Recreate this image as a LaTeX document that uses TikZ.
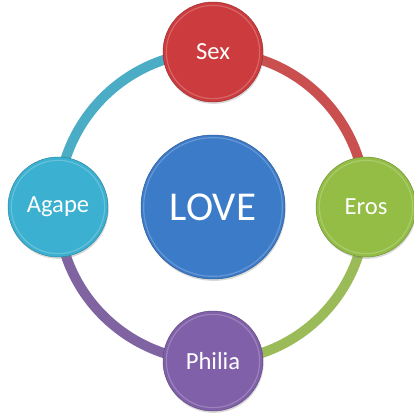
\documentclass[tikz,border=0pt]{standalone}
\usepackage{fontspec}
\setmainfont{Carlito}
\usetikzlibrary{shadows,backgrounds}

\definecolor{loveblue}{HTML}{3C7BC8}
\definecolor{sexred}{HTML}{CC3B3D}
\definecolor{erosgreen}{HTML}{93BD45}
\definecolor{philiapurple}{HTML}{8060A8}
\definecolor{agapecyan}{HTML}{3BB0D0}
\definecolor{ringred}{HTML}{C9504E}
\definecolor{ringgreen}{HTML}{9BBB59}
\definecolor{ringpurple}{HTML}{8064A2}
\definecolor{ringcyan}{HTML}{4BACC6}

\tikzset{
  rim/.style={path picture={\draw[white, opacity=0.22, line width=1pt]
      (path picture bounding box.center) circle[radius=#1];}},
  ball/.style={circle, minimum size=3cm, inner sep=0pt, fill=#1, draw=#1!75!black,
    line width=0.4pt, text=white, font=\fontsize{21}{21}\selectfont,
    drop shadow={opacity=0.3, shadow xshift=0.6pt, shadow yshift=-1.6pt},
    rim=1.4cm},
  band/.style={line width=8.5pt, draw=#1}
}

\begin{document}
\begin{tikzpicture}[x=0.03cm, y=0.03cm]
  \useasboundingbox (0,0) rectangle (413,416);

  % centre and the four kinds
  \node[ball=loveblue, minimum size=4.32cm, rim=2.08cm, font=\fontsize{35}{35}\selectfont] (love) at (213,209) {LOVE};
  \node[ball=sexred] (sex) at (213,364) {Sex};
  \node[ball=erosgreen] (eros) at (366,209) {Eros};
  \node[ball=philiapurple] (philia) at (213,55) {Philia};
  \node[ball=agapecyan] (agape) at (58,209) {Agape};

  % ring
  \begin{scope}[on background layer]
    \draw[band=ringred] (sex.center) to[out=0, in=90] (eros.center);
    \draw[band=ringgreen] (eros.center) to[out=-90, in=0] (philia.center);
    \draw[band=ringpurple] (philia.center) to[out=180, in=-90] (agape.center);
    \draw[band=ringcyan] (agape.center) to[out=90, in=180] (sex.center);
  \end{scope}
\end{tikzpicture}
\end{document}
